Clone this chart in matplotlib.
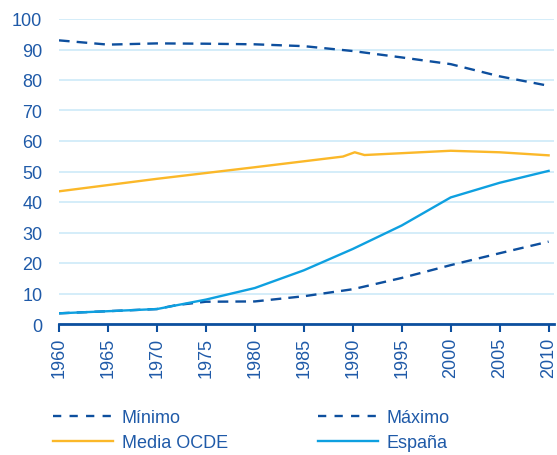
import matplotlib
matplotlib.use("Agg")
import matplotlib.pyplot as plt
from matplotlib.lines import Line2D

plt.rcParams['font.family'] = ['Liberation Sans', 'DejaVu Sans']

# Series values (percent)
years_max = [1960, 1965, 1970, 1975, 1980, 1985, 1990, 1995, 2000, 2005, 2010]
maximo = [93.0, 91.6, 92.0, 91.9, 91.7, 91.1, 89.5, 87.4, 85.2, 81.2, 78.1]

years_min = [1960, 1965, 1970, 1972, 1975, 1980, 1985, 1990, 1995, 2000, 2005, 2010]
minimo = [3.5, 4.2, 4.9, 6.2, 7.3, 7.4, 9.1, 11.4, 15.1, 19.3, 23.2, 27.0]

years_oecd = [1960, 1970, 1980, 1989, 1990.2, 1991.2, 2000, 2005, 2010]
media_ocde = [43.5, 47.6, 51.4, 54.9, 56.3, 55.4, 56.8, 56.3, 55.3]

years_esp = [1960, 1965, 1970, 1975, 1980, 1985, 1990, 1995, 2000, 2005, 2010]
espana = [3.5, 4.2, 4.9, 8.0, 11.8, 17.6, 24.6, 32.3, 41.5, 46.3, 50.2]

x_ticks = list(range(1960, 2011, 5))
y_ticks = list(range(0, 101, 10))

dark_blue = '#0d4f9e'
text_blue = '#1f5aa8'
orange = '#fbb829'
light_blue = '#0ea0e0'
grid_col = '#cdeaf8'

fig = plt.figure(figsize=(5.57, 4.56), dpi=100)
ax = fig.add_axes([59/557, 1-325/456, (553.5-59)/557, (325-20)/456])

dash = (0, (4.5, 3))
ax.plot(years_max, maximo, color=dark_blue, lw=1.7, ls=dash, zorder=3)
ax.plot(years_oecd, media_ocde, color=orange, lw=1.7, zorder=3)
ax.plot(years_min, minimo, color=dark_blue, lw=1.7, ls=dash, zorder=3)
ax.plot(years_esp, espana, color=light_blue, lw=1.7, zorder=4)

ax.set_xlim(1960, 2010.5)
ax.set_ylim(0, 100)
ax.set_xticks(x_ticks)
ax.set_xticklabels([str(y) for y in x_ticks], rotation=90)
ax.set_yticks(y_ticks)

ax.grid(axis='y', color=grid_col, lw=1.2)
ax.set_axisbelow(True)
for s in ['top', 'right', 'left']:
    ax.spines[s].set_visible(False)
ax.spines['bottom'].set_color(dark_blue)
ax.spines['bottom'].set_linewidth(2)
ax.tick_params(axis='x', colors=dark_blue, length=6, width=1.5, direction='out',
               labelsize=13, labelcolor=text_blue, pad=3)
ax.tick_params(axis='y', length=0, labelsize=13, labelcolor=text_blue, pad=12)

handles = [
    Line2D([], [], color=dark_blue, lw=1.7, ls=(0, (3.5, 3.5))),
    Line2D([], [], color=orange, lw=1.7),
    Line2D([], [], color=dark_blue, lw=1.7, ls=(0, (3.5, 3.5))),
    Line2D([], [], color=light_blue, lw=1.7),
]
labels = ['Mínimo', 'Media OCDE', 'Máximo', 'España']
fig.legend(handles, labels, ncol=2, loc='upper left',
           bbox_to_anchor=(37/557, 1-394/456), frameon=False,
           fontsize=13, labelcolor=text_blue, handlelength=3.3,
           handletextpad=0.5, columnspacing=5.0, labelspacing=0.45)

fig.savefig('out.png', dpi=100)
